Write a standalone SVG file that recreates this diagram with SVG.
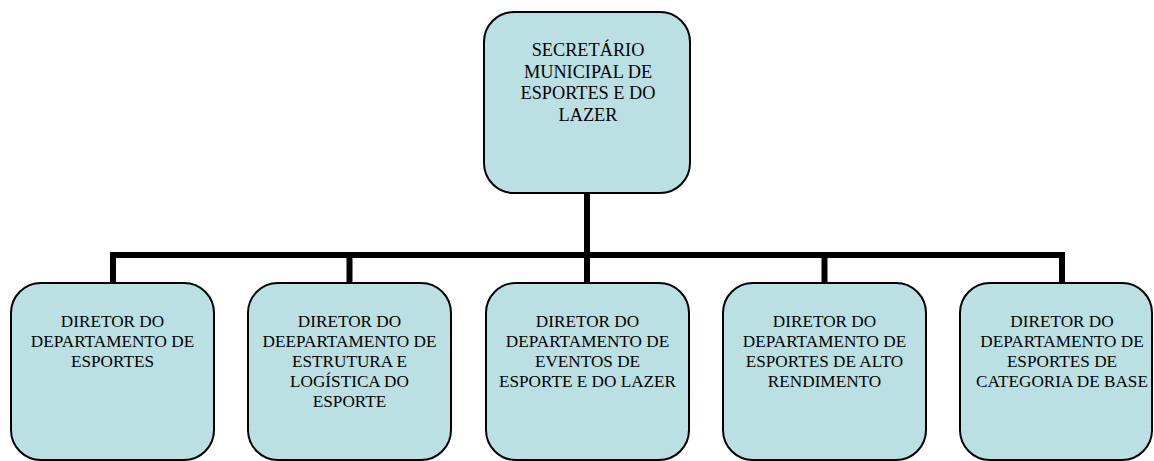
<svg xmlns="http://www.w3.org/2000/svg" width="1154" height="461" viewBox="0 0 1154 461">
<style>
.box{fill:#BBE0E3;stroke:#000;stroke-width:2}
.c{fill:none;stroke:#000;stroke-width:6;stroke-linecap:butt;stroke-linejoin:miter}
</style>
<rect width="1154" height="461" fill="#fff"/>
<g id="connectors">
<path class="c" d="M587 193 V283"/>
<path class="c" d="M113 283 V255 H1062 V283"/>
<path class="c" d="M349.5 255 V283"/>
<path class="c" d="M824.5 255 V283"/>
</g>
<g font-family="Liberation Serif, DejaVu Serif, serif" fill="#000" text-anchor="middle">
<g id="secretario" font-size="18.3">
<rect class="box" x="484" y="12" width="206" height="181" rx="30" ry="30"/>
<text x="588" y="56">SECRETÁRIO</text>
<text x="588" y="77.5">MUNICIPAL DE</text>
<text x="588" y="99">ESPORTES E DO</text>
<text x="588" y="120.5">LAZER</text>
</g>
<g id="dir-esportes" font-size="17.2">
<rect class="box" x="11" y="283" width="203" height="177" rx="30" ry="30"/>
<text x="112.5" y="326.5">DIRETOR DO</text>
<text x="112.5" y="346.5">DEPARTAMENTO DE</text>
<text x="112.5" y="366.5">ESPORTES</text>
</g>
<g id="dir-estrutura" font-size="17.2">
<rect class="box" x="248" y="283" width="203" height="177" rx="30" ry="30"/>
<text x="349.5" y="326.5">DIRETOR DO</text>
<text x="349.5" y="346.5">DEEPARTAMENTO DE</text>
<text x="349.5" y="366.5">ESTRUTURA E</text>
<text x="349.5" y="386.5">LOGÍSTICA DO</text>
<text x="349.5" y="406.5">ESPORTE</text>
</g>
<g id="dir-eventos" font-size="17.2">
<rect class="box" x="486" y="283" width="203" height="177" rx="30" ry="30"/>
<text x="587.5" y="326.5">DIRETOR DO</text>
<text x="587.5" y="346.5">DEPARTAMENTO DE</text>
<text x="587.5" y="366.5">EVENTOS DE</text>
<text x="587.5" y="386.5">ESPORTE E DO LAZER</text>
</g>
<g id="dir-alto-rendimento" font-size="17.2">
<rect class="box" x="723" y="283" width="203" height="177" rx="30" ry="30"/>
<text x="824.5" y="326.5">DIRETOR DO</text>
<text x="824.5" y="346.5">DEPARTAMENTO DE</text>
<text x="824.5" y="366.5">ESPORTES DE ALTO</text>
<text x="824.5" y="386.5">RENDIMENTO</text>
</g>
<g id="dir-categoria-base" font-size="17.2">
<rect class="box" x="960" y="283" width="192" height="177" rx="30" ry="30"/>
<text x="1062" y="326.5">DIRETOR DO</text>
<text x="1062" y="346.5">DEPARTAMENTO DE</text>
<text x="1062" y="366.5">ESPORTES DE</text>
<text x="1062" y="386.5">CATEGORIA DE BASE</text>
</g>
</g>
</svg>
